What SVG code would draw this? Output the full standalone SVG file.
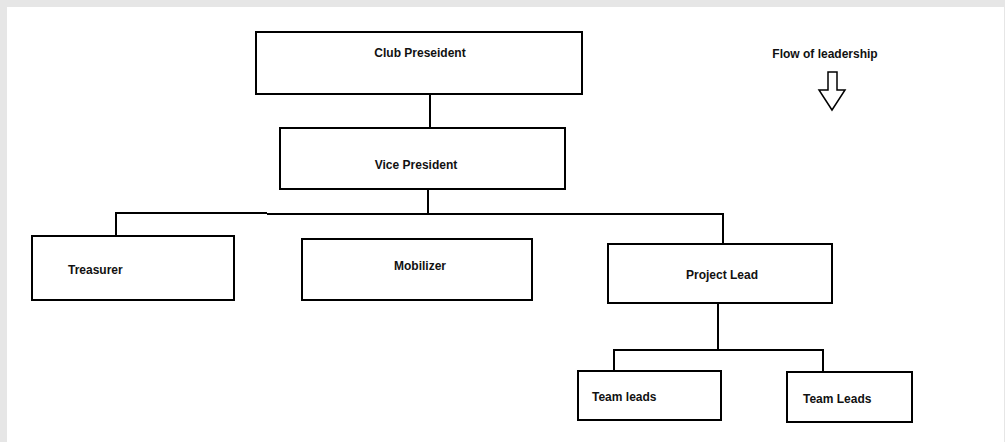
<svg xmlns="http://www.w3.org/2000/svg" width="1005" height="442" viewBox="0 0 1005 442">
<style>
.box{fill:#fff;stroke:#000;stroke-width:2}
.ln{fill:none;stroke:#000;stroke-width:2}
.t{font-family:"Liberation Sans",Arial,sans-serif;font-weight:bold;font-size:12px;fill:#111}
.c{text-anchor:middle}
</style>
<rect x="0" y="0" width="1005" height="442" fill="#e6e6e6"/>
<rect x="7" y="7" width="997" height="435" fill="#fff"/>
<g id="connectors">
<path class="ln" d="M430 94V128"/>
<path class="ln" d="M428 189V214"/>
<path class="ln" d="M116 236V213H267"/>
<path class="ln" d="M267 214H723V244"/>
<path class="ln" d="M718 303V350"/>
<path class="ln" d="M614 371V350H823V372"/>
</g>
<g id="club-president"><rect class="box" x="256" y="32" width="326" height="62"/><text class="t c" x="420" y="57">Club Preseident</text></g>
<g id="vice-president"><rect class="box" x="280" y="128" width="285" height="61"/><text class="t c" x="416" y="169">Vice President</text></g>
<g id="treasurer"><rect class="box" x="32" y="236" width="202" height="64"/><text class="t" x="68" y="274">Treasurer</text></g>
<g id="mobilizer"><rect class="box" x="302" y="239" width="230" height="61"/><text class="t c" x="420" y="270">Mobilizer</text></g>
<g id="project-lead"><rect class="box" x="608" y="244" width="224" height="59"/><text class="t c" x="722" y="279">Project Lead</text></g>
<g id="team-leads-1"><rect class="box" x="578" y="371" width="143" height="49"/><text class="t" x="592" y="401">Team leads</text></g>
<g id="team-leads-2"><rect class="box" x="787" y="372" width="125" height="50"/><text class="t" x="803" y="403">Team Leads</text></g>
<g id="flow-legend"><text class="t c" x="825" y="58">Flow of leadership</text>
<path d="M828 72H837V90H845L832 110L819 90H828Z" fill="#fff" stroke="#000" stroke-width="1.5"/></g>
</svg>
